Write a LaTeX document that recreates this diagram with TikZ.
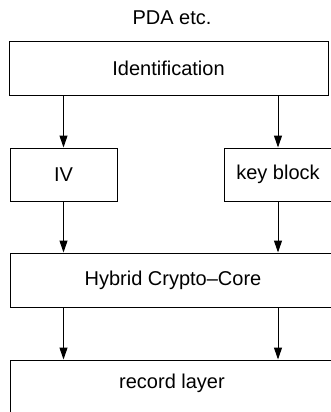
\documentclass[tikz,border=0pt]{standalone}
\usepackage{fontspec}
\setmainfont{Liberation Sans}
\usetikzlibrary{arrows.meta}
\begin{document}
\begin{tikzpicture}[x=1pt,y=1pt,
  lbl/.style={font=\fontsize{20}{22}\selectfont},
  box/.style={draw=black, line width=1pt, rectangle, inner sep=0pt, lbl},
  arr/.style={draw=black, line width=1pt, -{Triangle[length=12pt,width=8pt]}}]
  \useasboundingbox (0,0) rectangle (330,-412);
  \fill[white] (0,0) rectangle (330,-412);

  \node[lbl] (pda) at (172,-18) {PDA etc.};

  \node[box, minimum width=319pt, minimum height=53pt] (ident) at (168.5,-68.5) {Identification};
  \node[box, minimum width=107pt, minimum height=53pt] (iv) at (63.5,-174.5) {IV};
  \node[box, minimum width=108pt, minimum height=53pt] (key) at (278,-174.5) {key block};
  \node[box, minimum width=326pt, minimum height=54pt] (hybrid) at (173,-280) {Hybrid Crypto--Core};
  \node[box, minimum width=326pt, minimum height=64pt] (record) at (173,-392) {};
  \node[lbl] (recordtext) at (172,-383) {record layer};

  \draw[arr] (iv.north |- ident.south) -- (iv.north);
  \draw[arr] (key.north |- ident.south) -- (key.north);
  \draw[arr] (iv.south) -- (iv.south |- hybrid.north);
  \draw[arr] (key.south) -- (key.south |- hybrid.north);
  \draw[arr] (iv.south |- hybrid.south) -- (iv.south |- record.north);
  \draw[arr] (key.south |- hybrid.south) -- (key.south |- record.north);
\end{tikzpicture}
\end{document}
